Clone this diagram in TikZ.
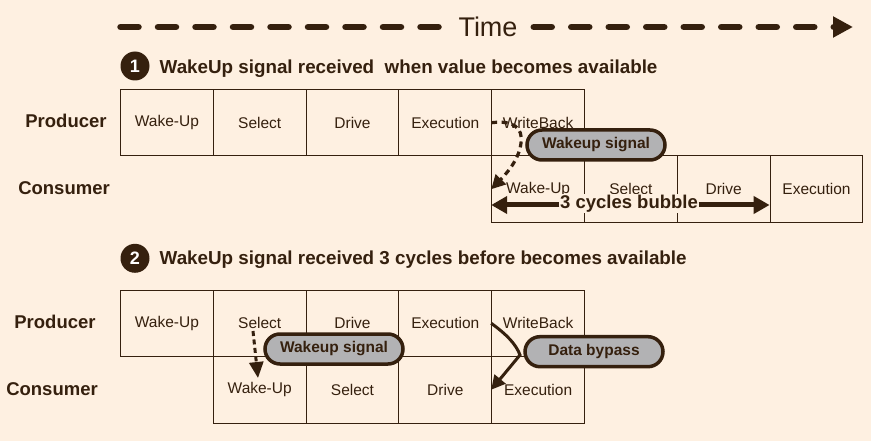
\documentclass[tikz,border=0pt]{standalone}
\usepackage{fontspec}
\setmainfont{Liberation Sans}
\usetikzlibrary{arrows.meta,positioning,calc}
\definecolor{bg}{HTML}{FEF0E1}
\definecolor{ink}{HTML}{35200E}
\definecolor{pillgrey}{HTML}{B2B2B4}
\begin{document}
\begin{tikzpicture}[x=1pt,y=-1pt,
 cell/.style={draw=ink, line width=1pt, minimum width=92.8pt, minimum height=66.5pt, inner sep=0pt, anchor=north west, text=ink, font=\fontsize{15.5}{18}\selectfont},
 lab/.style={text=ink, inner sep=0pt, font=\bfseries\fontsize{18.5}{22}\selectfont},
 pill/.style={draw=ink, line width=3.5pt, fill=pillgrey, rounded corners=15pt, minimum width=138pt, minimum height=30pt, inner sep=0pt, text=ink, font=\bfseries\fontsize{15.5}{18}\selectfont},
 badge/.style={circle, fill=ink, text=white, minimum size=29pt, inner sep=0pt, font=\bfseries\fontsize{18}{20}\selectfont},
 head/.style={anchor=base west, text=ink, inner sep=0pt, font=\bfseries\fontsize{18.8}{22}\selectfont},
 timeline/.style={draw=ink, line width=6.5pt, line cap=round, dash pattern=on 18pt off 19.5pt},
 wdash/.style={draw=ink, line width=3.2pt, dash pattern=on 6pt off 4.5pt, -{Triangle[length=14pt,width=14pt]}},
 wdashb/.style={draw=ink, line width=3pt, dash pattern=on 5pt off 3.5pt, -{Triangle[length=16pt,width=14pt]}},
 bypass/.style={draw=ink, line width=3pt, -{Triangle[length=14pt,width=14pt]}},
 bubble/.style={draw=ink, line width=5pt, -{Triangle[length=16pt,width=17pt]}}
]
\fill[bg] (0,0) rectangle (871,441);
\useasboundingbox (0,0) rectangle (871,441);

% Time arrow
\node[text=ink, inner sep=3pt, font=\fontsize{27}{30}\selectfont] (time) at (488,27) {Time};
\coordinate (tl) at (120.5,27);
\coordinate (tl2) at (440,27);
\coordinate (tr1) at (533.75,27);
\coordinate (tr) at (853,27);
\draw[timeline] (tl) -- (tl2);
\draw[timeline, -{Triangle[length=20pt,width=20pt]}] (tr1) -- (tr);

% Section 1
\node[badge] (b1) at (135,66) {1};
\node[head] (h1) at (159.5,73.5) {WakeUp signal received\hspace{0.28em} when value becomes available};
\node[lab] (prod1) at (66,121) {Producer};
\node[lab] (cons1) at (64,188) {Consumer};

\node[cell] (a1) at (120,89) {Wake-Up};
\node[cell] (a2) at (212.8,89) {Select};
\node[cell] (a3) at (305.6,89) {Drive};
\node[cell] (a4) at (398.4,89) {Execution};
\node[cell] (a5) at (491.2,89) {WriteBack};

\node[cell] (c1) at (491.2,155.5) {Wake-Up};
\node[cell] (c2) at (584,155.5) {Select};
\node[cell] (c3) at (676.8,155.5) {Drive};
\node[cell] (c4) at (769.6,155.5) {Execution};

\draw[wdash] (a5.west) .. controls (514,120) and (523,128) .. (521,143) .. controls (519,160) and (506,174) .. (c1.west);
\node[pill] (w1) at (596,145) {Wakeup signal};

\node[text=ink, fill=bg, inner sep=0.5pt, font=\bfseries\fontsize{18.5}{22}\selectfont] (bub) at (629,203.5) {3 cycles bubble};
\coordinate (bl) at (491.2,205);
\coordinate (br) at (769.6,205);
\draw[bubble] (bub.west |- bl) -- (bl);
\draw[bubble] (bub.east |- br) -- (br);

% Section 2
\node[badge] (b2) at (135,258.3) {2};
\node[head] (h2) at (159.5,265) {WakeUp signal received 3 cycles before becomes available};
\node[lab] (prod2) at (55,322) {Producer};
\node[lab] (cons2) at (52,389) {Consumer};

\node[cell] (p1) at (120,289.5) {Wake-Up};
\node[cell] (p2) at (212.8,289.5) {Select};
\node[cell] (p3) at (305.6,289.5) {Drive};
\node[cell] (p4) at (398.4,289.5) {Execution};
\node[cell] (p5) at (491.2,289.5) {WriteBack};

\node[cell] (q1) at (212.8,356) {Wake-Up};
\node[cell] (q2) at (305.6,356) {Select};
\node[cell] (q3) at (398.4,356) {Drive};
\node[cell] (q4) at (491.2,356) {Execution};

\coordinate (s2) at (253,331);
\coordinate (wk) at (258,378);
\draw[wdashb] (s2) -- (wk);
\node[pill] (w2) at (334,349) {Wakeup signal};

\draw[bypass] (p5.west) .. controls (506,334) and (516,344) .. (520,355) -- (q4.west);
\node[pill] (db) at (594,351.7) {Data bypass};
\end{tikzpicture}
\end{document}
